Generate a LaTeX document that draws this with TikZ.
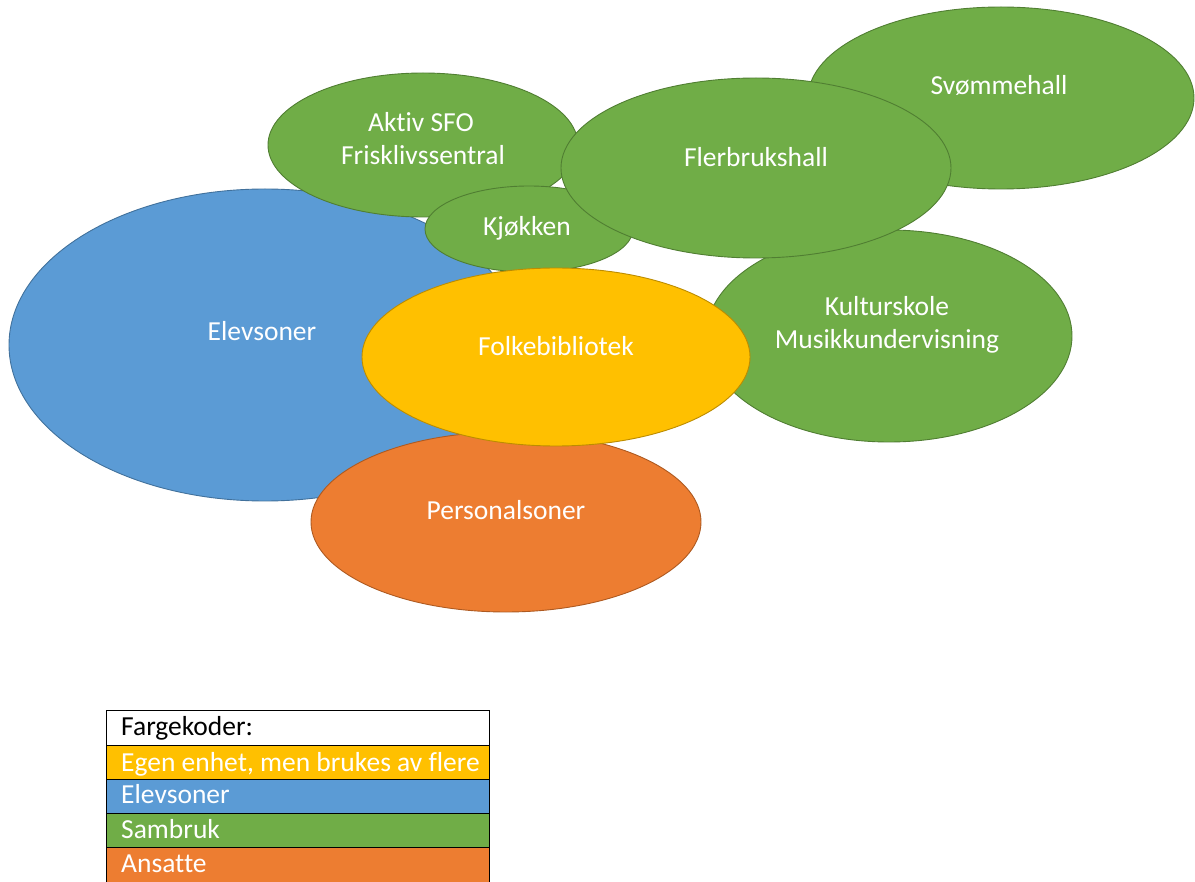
\documentclass[tikz,border=0pt]{standalone}
\usepackage{fontspec}
\setmainfont{Carlito}[Ligatures=NoCommon]
\usetikzlibrary{shapes.geometric}
\definecolor{grnfill}{HTML}{70AD47}
\definecolor{grnline}{HTML}{507E32}
\definecolor{bluefill}{HTML}{5B9BD5}
\definecolor{blueline}{HTML}{41719C}
\definecolor{orgfill}{HTML}{ED7D31}
\definecolor{orgline}{HTML}{AE5A21}
\definecolor{ylwfill}{HTML}{FFC000}
\definecolor{ylwline}{HTML}{BC8C00}
\begin{document}
\begin{tikzpicture}[x=1pt,y=-1pt,
  zone/.style={ellipse, inner sep=0pt, line width=0.9pt},
  greenzone/.style={zone, fill=grnfill, draw=grnline},
  bluezone/.style={zone, fill=bluefill, draw=blueline},
  orangezone/.style={zone, fill=orgfill, draw=orgline},
  yellowzone/.style={zone, fill=ylwfill, draw=ylwline},
  lbl/.style={text=white, font=\fontsize{27.5}{33}\selectfont, inner sep=0pt, anchor=base},
  legrow/.style={rectangle, draw=black, line width=1pt, inner sep=0pt, minimum width=383pt},
  legtext/.style={font=\fontsize{27.5}{33}\selectfont, inner sep=0pt, anchor=base west},
]
\useasboundingbox (0,0) rectangle (1195,882);

% zones, back to front
\node[bluezone,   minimum width=512pt, minimum height=312pt] (elev)  at (265,345) {};
\node[orangezone, minimum width=390pt, minimum height=180pt] (pers)  at (506,522) {};
\node[greenzone,  minimum width=310pt, minimum height=144pt] (aktiv) at (423,145) {};
\node[greenzone,  minimum width=208pt, minimum height=86pt]  (kjok)  at (529,229) {};
\node[greenzone,  minimum width=386pt, minimum height=182pt] (svom)  at (1001,98) {};
\node[greenzone,  minimum width=366pt, minimum height=212pt] (kult)  at (889,336) {};
\node[greenzone,  minimum width=390pt, minimum height=180pt] (fler)  at (756,168) {};
\node[yellowzone, minimum width=388pt, minimum height=178pt] (folk)  at (556,357) {};

% zone labels
\node[lbl] (aktivA) at (421,132) {Aktiv SFO};
\node[lbl] (aktivB) at (423,165) {Frisklivssentral};
\node[lbl] (kjokT)  at (527,236) {Kjøkken};
\node[lbl] (flerT)  at (756,167) {Flerbrukshall};
\node[lbl] (svomT)  at (999,95)  {Svømmehall};
\node[lbl] (kultA)  at (887,316) {Kulturskole};
\node[lbl] (kultB)  at (887,349) {Musikkundervisning};
\node[lbl] (elevT)  at (262,341) {Elevsoner};
\node[lbl] (folkT)  at (556,356) {Folkebibliotek};
\node[lbl] (persT)  at (506,520) {Personalsoner};

% colour key
\node[legrow, fill=white,    minimum height=35.5pt] (key0) at (297.5,727.75) {};
\node[legrow, fill=ylwfill,  minimum height=33.5pt] (key1) at (297.5,762.25) {};
\node[legrow, fill=bluefill, minimum height=34pt]   (key2) at (297.5,796) {};
\node[legrow, fill=grnfill,  minimum height=34pt]   (key3) at (297.5,830) {};
\node[legrow, fill=orgfill,  minimum height=48pt]   (key4) at (297.5,871) {};

\node[legtext, text=black] (key0T) at (121,735) {Fargekoder:};
\node[legtext, text=white] (key1T) at (121,771) {Egen enhet, men brukes av flere};
\node[legtext, text=white] (key2T) at (121,803) {Elevsoner};
\node[legtext, text=white] (key3T) at (121,838) {Sambruk};
\node[legtext, text=white] (key4T) at (121,872) {Ansatte};
\end{tikzpicture}
\end{document}
